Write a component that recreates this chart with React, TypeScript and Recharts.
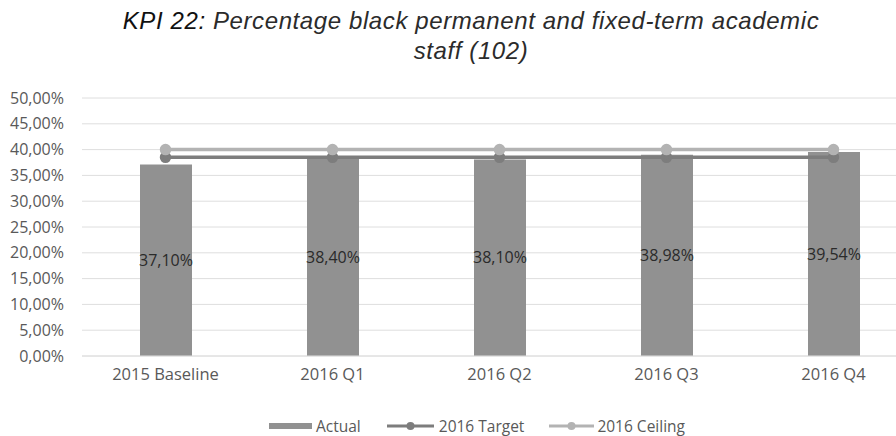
import React from 'react';
import { ComposedChart, Bar, Line, XAxis, YAxis, CartesianGrid, Legend, LabelList } from 'recharts';

const categories = ['2015 Baseline', '2016 Q1', '2016 Q2', '2016 Q3', '2016 Q4'];
const actual = [37.1, 38.4, 38.1, 38.98, 39.54];
const target2016 = [38.5, 38.5, 38.5, 38.5, 38.5];
const ceiling2016 = [40, 40, 40, 40, 40];
const yTicks = [0, 5, 10, 15, 20, 25, 30, 35, 40, 45, 50];

const data = categories.map((name, i) => ({
  name,
  actual: actual[i],
  target: target2016[i],
  ceiling: ceiling2016[i],
}));

const fmt = (v: number) => v.toFixed(2).replace('.', ',') + '%';

const FONT = '"Open Sans", "DejaVu Sans", sans-serif';
const BAR = '#919191';
const TARGET = '#7d7d7d';
const CEILING = '#b3b3b3';

const LegendBox = () => (
  <div style={{ display: 'flex', justifyContent: 'center', alignItems: 'center', fontFamily: FONT, fontSize: 15.5, color: '#595959' }}>
    <span style={{ display: 'inline-block', width: 43, height: 6, background: BAR, marginRight: 4 }} />
    <span style={{ marginRight: 26 }}>Actual</span>
    <svg width={47} height={12} style={{ marginRight: 5 }}>
      <line x1={0} y1={6} x2={47} y2={6} stroke={TARGET} strokeWidth={3} />
      <circle cx={23.5} cy={6} r={4} fill={TARGET} />
    </svg>
    <span style={{ marginRight: 25 }}>2016 Target</span>
    <svg width={45} height={12} style={{ marginRight: 3 }}>
      <line x1={0} y1={6} x2={45} y2={6} stroke={CEILING} strokeWidth={3} />
      <circle cx={22.5} cy={6} r={4} fill={CEILING} />
    </svg>
    <span>2016 Ceiling</span>
  </div>
);

export default function App() {
  return (
    <div style={{ position: 'fixed', left: 0, top: 0, width: 896, height: 436, overflow: 'hidden', background: '#fff' }}>
      <div
        style={{
          position: 'absolute',
          left: 0,
          top: 6,
          width: 942,
          textAlign: 'center',
          fontFamily: '"Liberation Sans", Arial, sans-serif',
          fontStyle: 'italic',
          fontSize: 24,
          letterSpacing: 0.6,
          lineHeight: '30px',
          color: '#2b2b2b',
        }}
      >
        <span style={{ color: '#111' }}>KPI 22:</span> Percentage black permanent and fixed-term academic
        <br />
        staff (102)
      </div>
      <ComposedChart
        width={925}
        height={436}
        data={data}
        margin={{ top: 98, right: 8, left: 8, bottom: 20 }}
        style={{ position: 'absolute', left: 0, top: 0 }}
      >
        <CartesianGrid vertical={false} stroke="#dedede" />
        <XAxis
          dataKey="name"
          height={30}
          axisLine={{ stroke: '#dedede' }}
          tickLine={false}
          tick={{ fontFamily: FONT, fontSize: 16.5, fill: '#595959' }}
          tickMargin={6}
        />
        <YAxis
          width={74}
          domain={[0, 50]}
          ticks={yTicks}
          interval={0}
          axisLine={false}
          tickLine={false}
          tickFormatter={fmt}
          tick={{ fontFamily: FONT, fontSize: 16, fill: '#595959' }}
          tickMargin={12}
        />
        <Legend verticalAlign="bottom" height={30} content={() => <LegendBox />} wrapperStyle={{ top: 415, left: 0, width: 954 }} />
        <Bar dataKey="actual" name="Actual" fill={BAR} barSize={52} isAnimationActive={false}>
          <LabelList dataKey="actual" position="center" formatter={(v: any) => fmt(Number(v))} style={{ fontFamily: FONT, fontSize: 16, fill: '#2a2a2a' }} />
        </Bar>
        <Line dataKey="target" name="2016 Target" stroke={TARGET} strokeWidth={3.5} dot={{ r: 4, fill: TARGET, stroke: TARGET }} isAnimationActive={false} />
        <Line dataKey="ceiling" name="2016 Ceiling" stroke={CEILING} strokeWidth={3.5} dot={{ r: 4, fill: CEILING, stroke: CEILING }} isAnimationActive={false} />
      </ComposedChart>
    </div>
  );
}
